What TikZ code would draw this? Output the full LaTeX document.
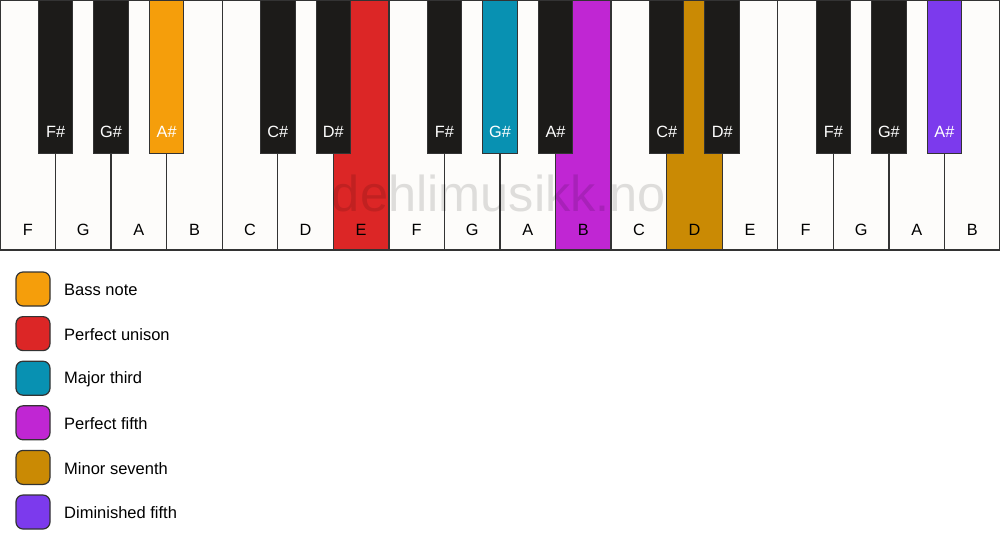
\documentclass[tikz,border=0pt]{standalone}
\usepackage{fontspec}
\setmainfont{Liberation Sans}
\definecolor{ivory}{HTML}{FDFCFA}
\definecolor{ebony}{HTML}{1C1B19}
\definecolor{keyline}{HTML}{333333}
\definecolor{bass}{HTML}{F59E0B}
\definecolor{unison}{HTML}{DC2626}
\definecolor{third}{HTML}{0891B2}
\definecolor{fifth}{HTML}{C026D3}
\definecolor{seventh}{HTML}{CA8A04}
\definecolor{dimfifth}{HTML}{7C3AED}

\begin{document}
\begin{tikzpicture}[x=1pt,y=-1pt,
    whitekey/.style={draw=keyline,line width=1.3pt,minimum width=55.556pt,minimum height=250pt,anchor=north west,inner sep=0pt,outer sep=0pt},
    blackkey/.style={draw=keyline,line width=1pt,minimum width=34.5pt,minimum height=153pt,anchor=north,inner sep=0pt,outer sep=0pt},
    keyname/.style={font=\fontsize{16.3}{16}\selectfont,inner sep=0pt},
    swatch/.style={draw=keyline,line width=1.2pt,rounded corners=7pt,minimum size=34pt,inner sep=0pt},
    legendtext/.style={font=\fontsize{16.5}{16}\selectfont,anchor=west,inner sep=0pt}]
    \useasboundingbox[fill=white] (0,0) rectangle (1000,550);
    \foreach \i/\n/\c in {0/F/ivory,1/G/ivory,2/A/ivory,3/B/ivory,4/C/ivory,5/D/ivory,6/E/unison,
            7/F/ivory,8/G/ivory,9/A/ivory,10/B/fifth,11/C/ivory,12/D/seventh,13/E/ivory,
            14/F/ivory,15/G/ivory,16/A/ivory,17/B/ivory} {
        \node (w\i) [whitekey,fill=\c] at ({\i*55.556},0) {};
        \node (wl\i) [keyname] at ({\i*55.556+27.778},230) {\n};
    }
    \node (mark) [font=\fontsize{50.5}{50}\selectfont,text=black,text opacity=0.12,inner sep=0pt] at (499,193) {dehlimusikk.no};
    \foreach \i/\n/\c in {1/F\#/ebony,2/G\#/ebony,3/A\#/bass,5/C\#/ebony,6/D\#/ebony,
            8/F\#/ebony,9/G\#/third,10/A\#/ebony,12/C\#/ebony,13/D\#/ebony,
            15/F\#/ebony,16/G\#/ebony,17/A\#/dimfifth} {
        \node (b\i) [blackkey,fill=\c] at ({\i*55.556},0) {};
        \node (bl\i) [keyname,text=white] at ({\i*55.556},132) {\n};
    }
    \foreach \k/\c/\t in {0/bass/Bass note,1/unison/Perfect unison,2/third/Major third,
            3/fifth/Perfect fifth,4/seventh/Minor seventh,5/dimfifth/Diminished fifth} {
        \node (sq\k) [swatch,fill=\c] at (33,{289+\k*44.6}) {};
        \node (lt\k) [legendtext] at (64,{290+\k*44.6}) {\t};
    }
\end{tikzpicture}
\end{document}
